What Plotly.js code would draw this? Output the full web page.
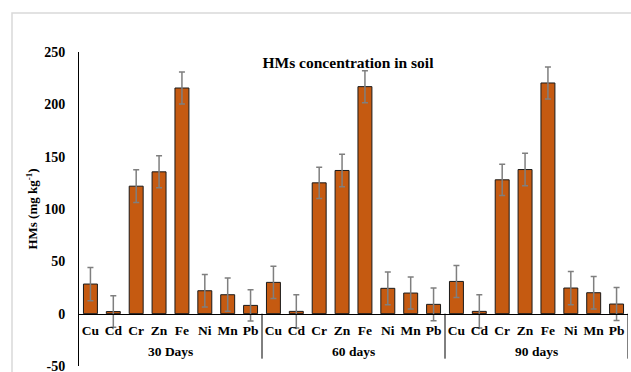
<!DOCTYPE html>
<html>
<head>
<meta charset="utf-8">
<script src="https://cdn.plot.ly/plotly-3.0.1.min.js"></script>
<style>html,body{margin:0;padding:0;background:#fff;}#chart{width:631px;height:372px;}</style>
</head>
<body>
<div id="chart"></div>
<script>
// Data
const groups = ['30 Days', '60 days', '90 days'];
const metals = ['Cu', 'Cd', 'Cr', 'Zn', 'Fe', 'Ni', 'Mn', 'Pb'];
const days30 = [28.3, 2.0, 121.8, 135.5, 215.6, 21.9, 18.1, 7.9];
const days60 = [29.9, 2.2, 125.0, 136.8, 216.9, 24.2, 19.7, 8.9];
const days90 = [30.8, 2.2, 127.9, 137.7, 220.4, 24.5, 20.0, 9.2];
const err30 = [15.9, 15.0, 15.6, 15.3, 15.4, 15.6, 15.9, 15.0];
const err60 = [15.3, 15.9, 15.0, 15.6, 15.3, 15.6, 15.3, 15.6];
const err90 = [15.3, 15.9, 14.9, 15.6, 15.3, 15.9, 15.6, 15.8];
const yTicks = [-50, 0, 50, 100, 150, 200, 250];

const seriesVals = [days30, days60, days90];
const seriesErr = [err30, err60, err90];
const xIds = [], xText = [], yVals = [], yErr = [];
groups.forEach((g, gi) => {
  metals.forEach((m, mi) => {
    xIds.push(g + '|' + m);
    xText.push(m);
    yVals.push(seriesVals[gi][mi]);
    yErr.push(seriesErr[gi][mi]);
  });
});

const serif = 'Liberation Serif, Times New Roman, serif';
const n = metals.length;

const trace = {
  type: 'bar',
  x: xIds,
  y: yVals,
  marker: {color: '#C55A11', line: {color: '#1a1a1a', width: 1}},
  error_y: {type: 'data', array: yErr, visible: true, color: '#7f7f7f', thickness: 1.5, width: 3},
  hoverinfo: 'none'
};

// group labels and dividers below the category labels
const annotations = groups.map((g, gi) => ({
  text: '<b>' + g + '</b>', xref: 'x', yref: 'y',
  x: gi * n + (n - 1) / 2, y: -36, showarrow: false,
  font: {family: serif, size: 13.5, color: '#000'}, xanchor: 'center', yanchor: 'middle'
}));
const dividers = groups.map((g, gi) => ({
  type: 'line', xref: 'x', yref: 'y',
  x0: (gi + 1) * n - 0.5, x1: (gi + 1) * n - 0.5, y0: 0, y1: -43,
  line: {color: '#000', width: 1}
}));

const layout = {
  width: 631, height: 372,
  margin: {l: 79, r: 3, t: 52, b: 6},
  paper_bgcolor: '#fff', plot_bgcolor: 'rgba(0,0,0,0)',
  bargap: 0.39,
  showlegend: false,
  title: {text: '<b>HMs concentration in soil</b>', font: {family: serif, size: 15.5, color: '#000'},
          x: 348/631, xanchor: 'center', y: 1 - 63/372, yanchor: 'middle'},
  xaxis: {
    type: 'category',
    tickvals: xIds, ticktext: xText,
    range: [-0.5, xIds.length - 0.5],
    anchor: 'free', position: 50/300,
    showline: true, linecolor: '#000', linewidth: 1,
    showgrid: false, zeroline: false, ticks: '',
    tickangle: 0, ticklabelstandoff: 4,
    tickfont: {family: serif, size: 13.5, color: '#000', weight: 'bold'}
  },
  yaxis: {
    range: [-50, 250], tickvals: yTicks, ticktext: yTicks.map(String),
    showline: true, linecolor: '#000', linewidth: 1,
    showgrid: false, zeroline: false, ticks: '',
    ticklabeloverflow: 'allow', ticklabelstandoff: 10,
    tickfont: {family: serif, size: 14, color: '#000', weight: 'bold'},
    title: {text: '<b>HMs (mg kg<sup>-1</sup>)</b>', font: {family: serif, size: 13, color: '#000'}, standoff: 3}
  },
  annotations: annotations,
  shapes: dividers.concat([{
    type: 'rect', xref: 'paper', yref: 'paper',
    x0: (12 - 79) / 549, x1: (640 - 79) / 549, y0: (366 - 380) / 314, y1: (366 - 13) / 314,
    line: {color: '#d9d9d9', width: 1.5}, fillcolor: 'rgba(0,0,0,0)', layer: 'below'
  }])
};

Plotly.newPlot('chart', [trace], layout, {staticPlot: true, displayModeBar: false});
</script>
</body>
</html>
